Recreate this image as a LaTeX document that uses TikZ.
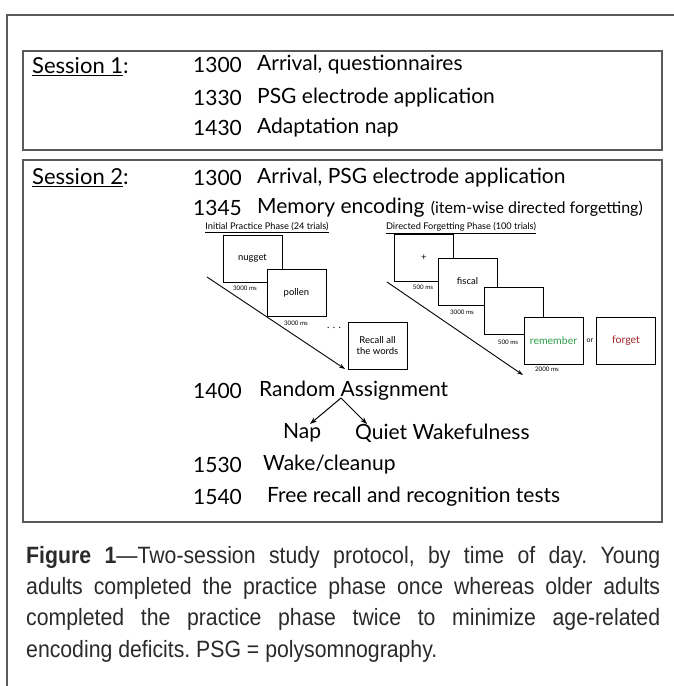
\documentclass[tikz,border=0pt]{standalone}
\usepackage{fontspec}
\setmainfont{Lato}
\newfontfamily\capfont[FakeStretch=0.9]{Liberation Sans}
\usetikzlibrary{arrows.meta,calc}
\definecolor{framegray}{HTML}{5A5A5A}
\definecolor{remgreen}{HTML}{2E9E4A}
\definecolor{forgetred}{HTML}{A3282B}
\definecolor{captext}{HTML}{2A2A2A}
\begin{document}
\begin{tikzpicture}[x=1pt,y=-1pt,
  big/.style={font=\fontsize{21}{24}\selectfont, inner sep=0pt, anchor=west},
  sess/.style={font=\fontsize{22}{24}\selectfont, inner sep=0pt, anchor=west},
  mid/.style={font=\fontsize{16}{18}\selectfont, inner sep=0pt, anchor=west},
  hdr/.style={font=\fontsize{9.2}{10}\selectfont, inner sep=0pt},
  trialbox/.style={draw, line width=1pt, fill=white, minimum width=59pt, minimum height=47pt, inner sep=0pt, font=\fontsize{9.5}{11}\selectfont, align=center},
  dur/.style={font=\fontsize{6.2}{7}\selectfont, inner sep=0pt},
  panelframe/.style={draw=framegray, line width=1.4pt},
  timeline/.style={-{Stealth[length=6pt,width=4pt]}, line width=0.9pt},
  branch/.style={-{Stealth[length=7pt,width=5pt]}, line width=1pt}
]
\useasboundingbox (0,0) rectangle (674,686);
% outer frame (cropped)
\draw[framegray, line width=1.6pt] (7,686) -- (7,15) -- (674,15);
% session boxes
\draw[panelframe] (23,51) rectangle (662,150);
\draw[panelframe] (23,160) rectangle (662,522);

% Session 1
\node[sess] (s1) at (32,67) {\underline{Session 1}:};
\node[big] (t1a) at (193,65) {1300};
\node[big] (e1a) at (257,65) {Arrival, questionnaires};
\node[big] (t1b) at (193,98) {1330};
\node[big] (e1b) at (257,98) {PSG electrode application};
\node[big] (t1c) at (193,128) {1430};
\node[big] (e1c) at (257,128) {Adaptation nap};

% Session 2
\node[sess] (s2) at (32,178) {\underline{Session 2}:};
\node[big] (t2a) at (193,178) {1300};
\node[big] (e2a) at (257,178) {Arrival, PSG electrode application};
\node[big] (t2b) at (193,208) {1345};
\node[big] (e2b) at (257,208) {Memory encoding};
\node[mid, anchor=base west] (e2bx) at ($(e2b.base east)+(6,0)$) {(item-wise directed forgetting)};

% practice phase
\node[hdr] (hp) at (267,228) {\underline{Initial Practice Phase (24 trials)}};
\coordinate (pa) at (207,277);
\coordinate (pb) at (345,369);
\draw[timeline] (pa) -- (pb);
\node[trialbox] (nug) at (252.5,258.5) {nugget};
\node[trialbox] (pol) at (296.5,293) {pollen};
\node[trialbox] (rec) at (377.5,346) {Recall all\\the words};
\node[dur] (d1) at (245,288) {3000 ms};
\node[dur] (d2) at (296,323) {3000 ms};
\node[font=\fontsize{10}{10}\selectfont, inner sep=0pt] (dots) at (334,328) {. . .};

% directed forgetting phase
\node[hdr] (hd) at (461,228) {\underline{Directed Forgetting Phase (100 trials)}};
\coordinate (da) at (387,282);
\coordinate (db) at (523,375);
\draw[timeline] (da) -- (db);
\node[trialbox] (fix) at (424,257.5) {+};
\node[trialbox] (fis) at (467.5,281.5) {fiscal};
\node[trialbox] (blk) at (513.5,311) {};
\node[trialbox, text=remgreen, font=\fontsize{10.5}{12}\selectfont] (rem) at (553.5,340.5) {remember};
\node[trialbox, text=forgetred, font=\fontsize{10.5}{12}\selectfont] (fgt) at (626,340.5) {forget};
\node[dur] (d3) at (423,287) {500 ms};
\node[dur] (d4) at (462,312) {3000 ms};
\node[dur] (d5) at (508,342) {500 ms};
\node[dur, font=\fontsize{7}{8}\selectfont] (orw) at (590,341) {or};
\node[dur] (d6) at (547,369) {2000 ms};

% rest of session 2
\node[big] (t2c) at (193,391) {1400};
\node[big] (e2c) at (259,391) {Random Assignment};
\node[big] (nap) at (283,433) {Nap};
\node[big] (qw) at (355,433) {Quiet Wakefulness};
\coordinate (apex) at (341,398);
\coordinate (tipl) at (310,424);
\coordinate (tipr) at (367,424);
\draw[branch] (apex) -- (tipl);
\draw[branch] (apex) -- (tipr);
\node[big] (t2d) at (193,465) {1530};
\node[big] (e2d) at (263,465) {Wake/cleanup};
\node[big] (t2e) at (193,497) {1540};
\node[big] (e2e) at (267,497) {Free recall and recognition tests};

% caption
\node[anchor=north west, inner sep=0pt, text width=634pt, align=justify,
      font=\capfont\fontsize{23.6}{31.3}\selectfont\frenchspacing, text=captext] (cap) at (26,546)
  {\textbf{Figure 1}—Two-session study protocol, by time of day. Young\linebreak adults completed the practice phase once whereas older adults\linebreak completed the practice phase twice to minimize age-related\linebreak encoding deficits. PSG = polysomnography.};
\end{tikzpicture}
\end{document}
